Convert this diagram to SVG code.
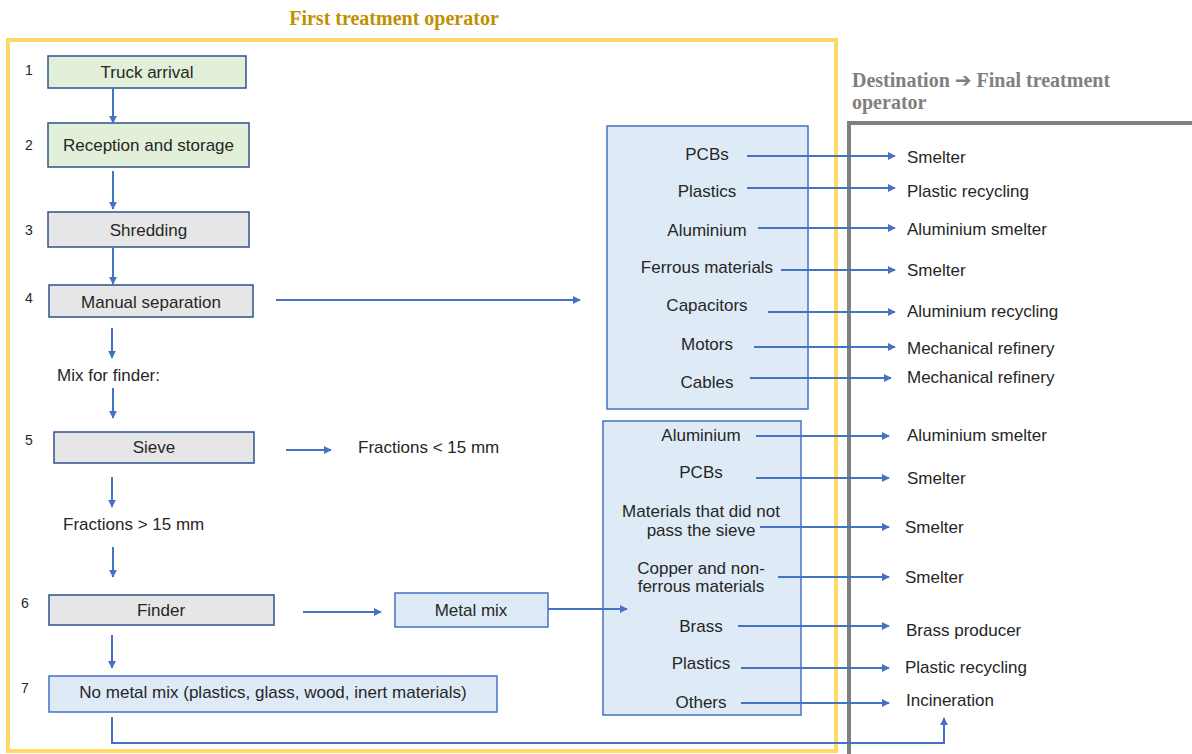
<svg xmlns="http://www.w3.org/2000/svg" width="1192" height="754" viewBox="0 0 1192 754">
  <defs>
    <marker id="arr" viewBox="0 0 10 10" refX="9" refY="5" markerWidth="8" markerHeight="8" markerUnits="userSpaceOnUse" orient="auto">
      <path d="M0,0 L10,5 L0,10 z" fill="#4472C4"/>
    </marker>
    <style>
      .t { font-family: "Liberation Sans", Arial, sans-serif; font-size: 17px; fill: #262626; }
      .c { text-anchor: middle; dominant-baseline: central; }
      .l { text-anchor: start; dominant-baseline: central; }
      .num { font-family: "Liberation Sans", Arial, sans-serif; font-size: 14px; fill: #262626; dominant-baseline: central; }
      .head { font-family: "Liberation Serif", "Times New Roman", serif; font-size: 20px; font-weight: bold; }
      .green { fill: #E2F0D9; stroke: #2F528F; stroke-width: 1.5; }
      .gray { fill: #E7E6E6; stroke: #2F528F; stroke-width: 1.5; }
      .blue { fill: #DEEBF7; stroke: #4472C4; stroke-width: 1.5; }
      .conn path, .conn line { stroke: #4472C4; stroke-width: 2; fill: none; }
      .conn line { marker-end: url(#arr); }
    </style>
  </defs>
  <rect width="1192" height="754" fill="#FFFFFF"/>

  <!-- operator frames -->
  <g id="first-operator">
    <rect x="8" y="40" width="828" height="711" fill="none" stroke="#FFD966" stroke-width="4"/>
    <text class="head" x="394" y="25" text-anchor="middle" fill="#BF9000">First treatment operator</text>
  </g>
  <g id="final-operator">
    <rect x="849" y="123" width="400" height="640" fill="none" stroke="#808080" stroke-width="4"/>
    <text class="head" x="852" y="87" fill="#808080">Destination <tspan font-family="'DejaVu Sans', sans-serif" font-size="20">➔</tspan> Final treatment</text>
    <text class="head" x="852" y="109" fill="#808080">operator</text>
  </g>

  <!-- step numbers -->
  <g id="step-numbers" class="num">
    <text x="25" y="70">1</text>
    <text x="25" y="145">2</text>
    <text x="25" y="230">3</text>
    <text x="25" y="298">4</text>
    <text x="25" y="440">5</text>
    <text x="21" y="603">6</text>
    <text x="21" y="688">7</text>
  </g>

  <!-- process steps -->
  <g id="truck-arrival">
    <rect class="green" x="48" y="56" width="198" height="32"/>
    <text class="t c" x="147" y="72">Truck arrival</text>
  </g>
  <g id="reception">
    <rect class="green" x="48" y="123" width="201" height="44"/>
    <text class="t c" x="148.5" y="145">Reception and storage</text>
  </g>
  <g id="shredding">
    <rect class="gray" x="48" y="212" width="201" height="35"/>
    <text class="t c" x="148.5" y="230">Shredding</text>
  </g>
  <g id="manual-separation">
    <rect class="gray" x="49" y="285" width="204" height="32"/>
    <text class="t c" x="151" y="302">Manual separation</text>
  </g>
  <g id="mix-label">
    <text class="t l" x="57" y="375">Mix for finder:</text>
  </g>
  <g id="sieve">
    <rect class="gray" x="54" y="432" width="200" height="31"/>
    <text class="t c" x="154" y="447">Sieve</text>
  </g>
  <g id="fractions-small">
    <text class="t l" x="358" y="447">Fractions &lt; 15 mm</text>
  </g>
  <g id="fractions-large">
    <text class="t l" x="63" y="524">Fractions &gt; 15 mm</text>
  </g>
  <g id="finder">
    <rect class="gray" x="49" y="595" width="225" height="30"/>
    <text class="t c" x="161" y="610">Finder</text>
  </g>
  <g id="metal-mix">
    <rect class="blue" x="395" y="593" width="153" height="34"/>
    <text class="t c" x="471" y="610">Metal mix</text>
  </g>
  <g id="no-metal-mix">
    <rect class="blue" x="49" y="676" width="448" height="36"/>
    <text class="t c" x="273" y="692">No metal mix (plastics, glass, wood, inert materials)</text>
  </g>

  <!-- manual separation outputs -->
  <g id="manual-fractions">
    <rect class="blue" x="607" y="126" width="201" height="283"/>
    <text class="t c" x="707" y="154">PCBs</text>
    <text class="t c" x="707" y="191">Plastics</text>
    <text class="t c" x="707" y="230">Aluminium</text>
    <text class="t c" x="707" y="267">Ferrous materials</text>
    <text class="t c" x="707" y="305">Capacitors</text>
    <text class="t c" x="707" y="344">Motors</text>
    <text class="t c" x="707" y="382">Cables</text>
  </g>

  <!-- metal mix outputs -->
  <g id="metal-fractions">
    <rect class="blue" x="603" y="421" width="198" height="294"/>
    <text class="t c" x="701" y="435">Aluminium</text>
    <text class="t c" x="701" y="472">PCBs</text>
    <text class="t c" x="701" y="511">Materials that did not</text>
    <text class="t c" x="701" y="530">pass the sieve</text>
    <text class="t c" x="701" y="568">Copper and non-</text>
    <text class="t c" x="701" y="586">ferrous materials</text>
    <text class="t c" x="701" y="626">Brass</text>
    <text class="t c" x="701" y="663">Plastics</text>
    <text class="t c" x="701" y="702">Others</text>
  </g>

  <!-- destinations -->
  <g id="destinations">
    <text class="t l" x="907" y="157">Smelter</text>
    <text class="t l" x="907" y="191">Plastic recycling</text>
    <text class="t l" x="907" y="229">Aluminium smelter</text>
    <text class="t l" x="907" y="270">Smelter</text>
    <text class="t l" x="907" y="311">Aluminium recycling</text>
    <text class="t l" x="907" y="348">Mechanical refinery</text>
    <text class="t l" x="907" y="377">Mechanical refinery</text>
    <text class="t l" x="907" y="435">Aluminium smelter</text>
    <text class="t l" x="907" y="478">Smelter</text>
    <text class="t l" x="905" y="527">Smelter</text>
    <text class="t l" x="905" y="577">Smelter</text>
    <text class="t l" x="906" y="630">Brass producer</text>
    <text class="t l" x="905" y="667">Plastic recycling</text>
    <text class="t l" x="906" y="700">Incineration</text>
  </g>

  <!-- connectors -->
  <g id="connectors" class="conn">
    <line x1="113" y1="88" x2="113" y2="123"/>
    <line x1="113" y1="171" x2="113" y2="209"/>
    <line x1="113" y1="248" x2="113" y2="284"/>
    <line x1="112" y1="328" x2="112" y2="358"/>
    <line x1="113" y1="388" x2="113" y2="418"/>
    <line x1="112" y1="477" x2="112" y2="507"/>
    <line x1="113" y1="547" x2="113" y2="577"/>
    <line x1="112" y1="635" x2="112" y2="668"/>

    <line x1="276" y1="300" x2="580" y2="300"/>
    <line x1="286" y1="450" x2="331" y2="450"/>
    <line x1="303" y1="612" x2="381" y2="612"/>
    <line x1="548" y1="609" x2="627" y2="609"/>

    <line x1="747" y1="156" x2="895" y2="156"/>
    <line x1="747" y1="188" x2="895" y2="188"/>
    <line x1="758" y1="228" x2="895" y2="228"/>
    <line x1="781" y1="270" x2="895" y2="270"/>
    <line x1="768" y1="312" x2="895" y2="312"/>
    <line x1="754" y1="347" x2="895" y2="347"/>
    <line x1="750" y1="378" x2="891" y2="378"/>

    <line x1="756" y1="436" x2="889" y2="436"/>
    <line x1="756" y1="478" x2="889" y2="478"/>
    <line x1="760" y1="527" x2="889" y2="527"/>
    <line x1="778" y1="577" x2="889" y2="577"/>
    <line x1="738" y1="626" x2="889" y2="626"/>
    <line x1="741" y1="668" x2="889" y2="668"/>
    <line x1="741" y1="703" x2="889" y2="703"/>

    <path d="M112,717 V743 H944 V718" marker-end="url(#arr)"/>
  </g>
</svg>
